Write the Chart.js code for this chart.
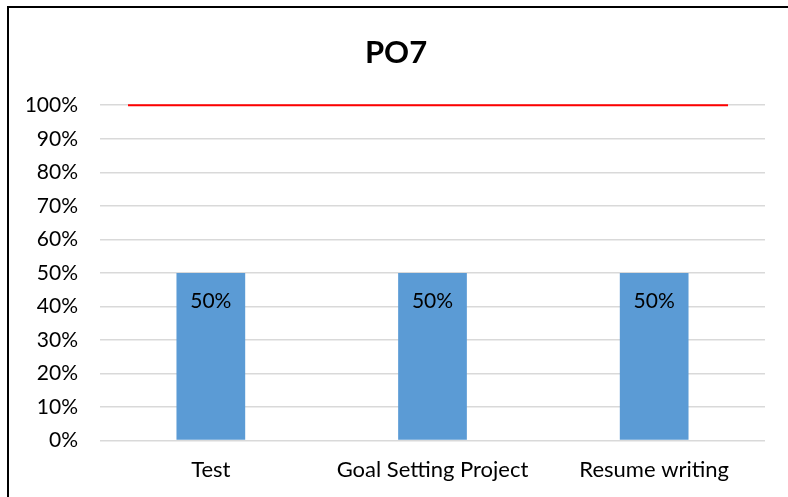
<!DOCTYPE html>
<html>
<head>
<meta charset="utf-8">
<script src="https://cdn.jsdelivr.net/npm/chart.js@4.4.0/dist/chart.umd.min.js"></script>
<style>
  html, body { margin: 0; padding: 0; background: #fff; }
  #wrap { position: relative; width: 788px; height: 497px; overflow: hidden; }
  #frame {
    position: absolute; left: 7px; top: 6px; width: 800px; height: 520px;
    border-left: 2px solid #000; border-top: 2px solid #000;
  }
  canvas { position: absolute; left: 0; top: 0; }
</style>
</head>
<body>
<div id="wrap">
  <div id="frame"></div>
  <canvas id="chart" width="788" height="497"></canvas>
</div>
<script>
  // categories and values
  const categories = ['Test', 'Goal Setting Project', 'Resume writing'];
  const scores = [50, 50, 50];
  const yTicks = [0, 10, 20, 30, 40, 50, 60, 70, 80, 90, 100];
  const targetX = [0, 1];
  const targetY = [100, 100];

  let barLabels = {
    id: 'barLabels',
    afterDatasetsDraw(chart) {
      let ctx = chart.ctx;
      let meta = chart.getDatasetMeta(0);
      ctx.save();
      ctx.font = '21px Lato';
      ctx.fillStyle = '#000';
      ctx.textAlign = 'center';
      ctx.textBaseline = 'middle';
      meta.data.forEach(function(bar, i) {
        ctx.fillText(scores[i] + '%', bar.x, bar.y + 28);
      });
      ctx.restore();
    }
  };

  new Chart(document.getElementById('chart'), {
    type: 'bar',
    data: {
      labels: categories,
      datasets: [
        {
          type: 'bar',
          data: scores,
          backgroundColor: '#5B9BD5',
          barPercentage: 0.31,
          categoryPercentage: 1,
          grouped: false,
          order: 2
        },
        {
          type: 'line',
          data: targetX.map((x, i) => ({ x: x, y: targetY[i] })),
          xAxisID: 'x2',
          borderColor: '#ff0000',
          borderWidth: 2,
          pointRadius: 0,
          fill: false,
          clip: false,
          order: 1
        }
      ]
    },
    options: {
      responsive: false,
      animation: false,
      devicePixelRatio: 1,
      layout: { padding: { left: 27, right: 23, top: 34, bottom: 6 } },
      plugins: {
        legend: { display: false },
        tooltip: { enabled: false },
        title: {
          display: true,
          text: 'PO7',
          color: '#000',
          font: { family: 'Lato', size: 31, weight: 'bold' },
          padding: { top: 0, bottom: 34 }
        }
      },
      scales: {
        x: {
          grid: { display: false },
          border: { display: false },
          ticks: { color: '#000', font: { family: 'Lato', size: 22 }, padding: 8, maxRotation: 0 }
        },
        x2: {
          type: 'linear',
          display: false,
          offset: false,
          min: -0.0467,
          max: 1.0616
        },
        y: {
          min: 0,
          max: 100,
          afterBuildTicks(axis) {
            axis.ticks = yTicks.map(v => ({ value: v }));
          },
          afterFit(axis) {
            axis.width = 73;
          },
          grid: { color: '#d9d9d9', lineWidth: 1.5, drawTicks: false },
          border: { display: false },
          ticks: {
            color: '#000',
            font: { family: 'Lato', size: 21 },
            padding: 22,
            callback: v => v + '%'
          }
        }
      }
    },
    plugins: [barLabels]
  });
</script>
</body>
</html>
